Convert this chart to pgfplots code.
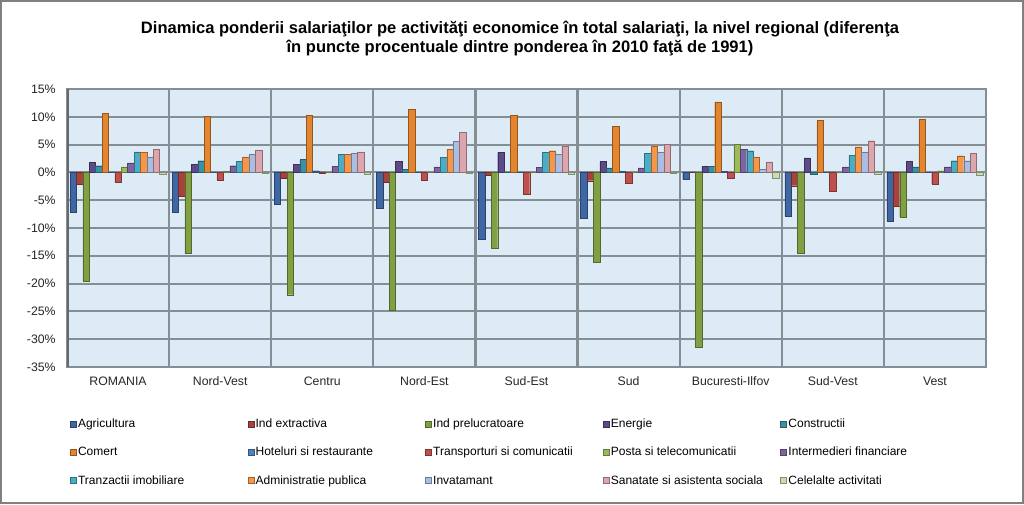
\documentclass[border=0pt]{standalone}
\usepackage{fontspec}
\setmainfont{Liberation Sans}
\usepackage{pgfplots}
\pgfplotsset{compat=1.18}
\usepackage{pgfplotstable}

\definecolor{c1}{HTML}{3F67A4}
\definecolor{c2}{HTML}{A8423F}
\definecolor{c3}{HTML}{80A043}
\definecolor{c4}{HTML}{5E4A87}
\definecolor{c5}{HTML}{3A90A5}
\definecolor{c6}{HTML}{E3842F}
\definecolor{c7}{HTML}{4F81BD}
\definecolor{c8}{HTML}{C0504D}
\definecolor{c9}{HTML}{9BBB59}
\definecolor{c10}{HTML}{8064A2}
\definecolor{c11}{HTML}{4BACC6}
\definecolor{c12}{HTML}{F79646}
\definecolor{c13}{HTML}{AABDE3}
\definecolor{c14}{HTML}{DDA6AE}
\definecolor{c15}{HTML}{C9DCB1}
\definecolor{plotbg}{HTML}{DDEBF6}
\definecolor{gridc}{HTML}{858E93}

\pgfplotstableread{
x Agr Iex Ipr Ene Con Com Hot Tra Pos Int Tzi Adm Inv San Cel
0 -7.2 -2.1 -19.6 1.8 1.2 10.6 0.1 -1.8 1.0 1.7 3.7 3.6 2.8 4.1 -0.3
1 -7.1 -4.3 -14.6 1.4 2.1 10.1 0.1 -1.4 0.2 1.2 2.0 2.8 3.2 4.0 -0.2
2 -5.7 -1.0 -22.0 1.5 2.3 10.2 0.3 -0.2 0.1 1.1 3.3 3.3 3.4 3.7 -0.3
3 -6.4 -1.7 -24.8 2.0 0.6 11.3 0.1 -1.4 0.1 1.0 2.7 4.2 5.6 7.2 -0.2
4 -12.0 -0.5 -13.7 3.6 0.1 10.2 0.1 -4.0 0.1 0.9 3.6 3.9 3.3 4.8 -0.3
5 -8.2 -1.5 -16.1 2.0 0.8 8.3 0.2 -1.9 0.1 0.8 3.4 4.8 3.6 5.0 -0.2
6 -1.3 0.1 -31.4 1.1 1.1 12.7 0.2 -1.0 5.1 4.2 3.9 2.8 0.6 1.9 -1.0
7 -7.9 -2.4 -14.6 2.6 -0.4 9.3 0.1 -3.4 0.1 1.0 3.1 4.6 3.7 5.7 -0.3
8 -8.7 -6.1 -8.0 2.0 1.0 9.5 0.1 -2.1 0.3 1.0 2.1 3.0 2.1 3.4 -0.5
}\data

\newcommand{\lentry}[1]{\makebox[126pt][l]{\strut #1}}

\begin{document}
\begin{tikzpicture}
\useasboundingbox (0,0) rectangle (768pt,378pt);
\fill[white] (0,0) rectangle (768pt,378pt);
\draw[gray, line width=1.5pt] (0.75pt,0.75pt) rectangle (767.25pt,377.25pt);
\node[font=\bfseries\fontsize{12.4}{14.25}\selectfont, align=center] at (390pt,349pt)
 {Dinamica ponderii salariaţilor pe activităţi economice în total salariaţi, la nivel regional (diferenţa\\
  în puncte procentuale dintre ponderea în 2010 faţă de 1991)};
\begin{axis}[
 at={(50.25pt,102.75pt)}, anchor=south west,
 scale only axis, width=689.25pt, height=208.5pt,
 ybar=0pt, bar width=4.8pt,
 xmin=-0.5, xmax=8.5, ymin=-35, ymax=15,
 xtick={0,...,8},
 xticklabels={ROMANIA,Nord-Vest,Centru,Nord-Est,Sud-Est,Sud,Bucuresti-Ilfov,Sud-Vest,Vest},
 minor xtick={0.5,1.5,...,7.5},
 xminorgrids, minor x grid style={gridc, line width=1.6pt},
 ytick={-35,-30,...,15},
 yticklabels={-35\%,-30\%,-25\%,-20\%,-15\%,-10\%,-5\%,0\%,5\%,10\%,15\%},
 ymajorgrids, major grid style={gridc, line width=1.6pt},
 major tick length=0pt, minor tick length=0pt,
 axis background/.style={fill=plotbg},
 axis line style={gridc, line width=1.6pt},
 tick label style={font=\fontsize{9.2}{10}\selectfont, text=black!85},
 xticklabel style={yshift=-4pt},
 yticklabel style={xshift=-5pt},
 legend columns=5,
 legend style={at={(axis description cs:0.003,-0.178)}, anchor=north west, draw=none, fill=none,
   inner sep=0pt, font=\fontsize{9}{10}\selectfont, column sep=0pt, row sep=10.3pt,
   nodes={inner sep=1.2pt}},
 legend image code/.code={\fill[#1] (0pt,-2.25pt) rectangle (4.5pt,2.25pt);},
 every axis plot/.append style={line width=0.3pt},
]
\addplot[fill=c1, draw=c1!65!black] table[x=x,y=Agr]{\data}; \addlegendentry{\lentry{Agricultura}}
\addplot[fill=c2, draw=c2!65!black] table[x=x,y=Iex]{\data}; \addlegendentry{\lentry{Ind extractiva}}
\addplot[fill=c3, draw=c3!65!black] table[x=x,y=Ipr]{\data}; \addlegendentry{\lentry{Ind prelucratoare}}
\addplot[fill=c4, draw=c4!65!black] table[x=x,y=Ene]{\data}; \addlegendentry{\lentry{Energie}}
\addplot[fill=c5, draw=c5!65!black] table[x=x,y=Con]{\data}; \addlegendentry{\lentry{Constructii}}
\addplot[fill=c6, draw=c6!65!black] table[x=x,y=Com]{\data}; \addlegendentry{\lentry{Comert}}
\addplot[fill=c7, draw=c7!65!black] table[x=x,y=Hot]{\data}; \addlegendentry{\lentry{Hoteluri si restaurante}}
\addplot[fill=c8, draw=c8!65!black] table[x=x,y=Tra]{\data}; \addlegendentry{\lentry{Transporturi si comunicatii}}
\addplot[fill=c9, draw=c9!65!black] table[x=x,y=Pos]{\data}; \addlegendentry{\lentry{Posta si telecomunicatii}}
\addplot[fill=c10, draw=c10!65!black] table[x=x,y=Int]{\data}; \addlegendentry{\lentry{Intermedieri financiare}}
\addplot[fill=c11, draw=c11!65!black] table[x=x,y=Tzi]{\data}; \addlegendentry{\lentry{Tranzactii imobiliare}}
\addplot[fill=c12, draw=c12!65!black] table[x=x,y=Adm]{\data}; \addlegendentry{\lentry{Administratie publica}}
\addplot[fill=c13, draw=c13!65!black] table[x=x,y=Inv]{\data}; \addlegendentry{\lentry{Invatamant}}
\addplot[fill=c14, draw=c14!65!black] table[x=x,y=San]{\data}; \addlegendentry{\lentry{Sanatate si asistenta sociala}}
\addplot[fill=c15, draw=c15!65!black] table[x=x,y=Cel]{\data}; \addlegendentry{\lentry{Celelalte activitati}}
\draw[gridc!75!black, line width=2.6pt] (rel axis cs:0,0) -- (rel axis cs:0,1);
\end{axis}
\end{tikzpicture}
\end{document}
